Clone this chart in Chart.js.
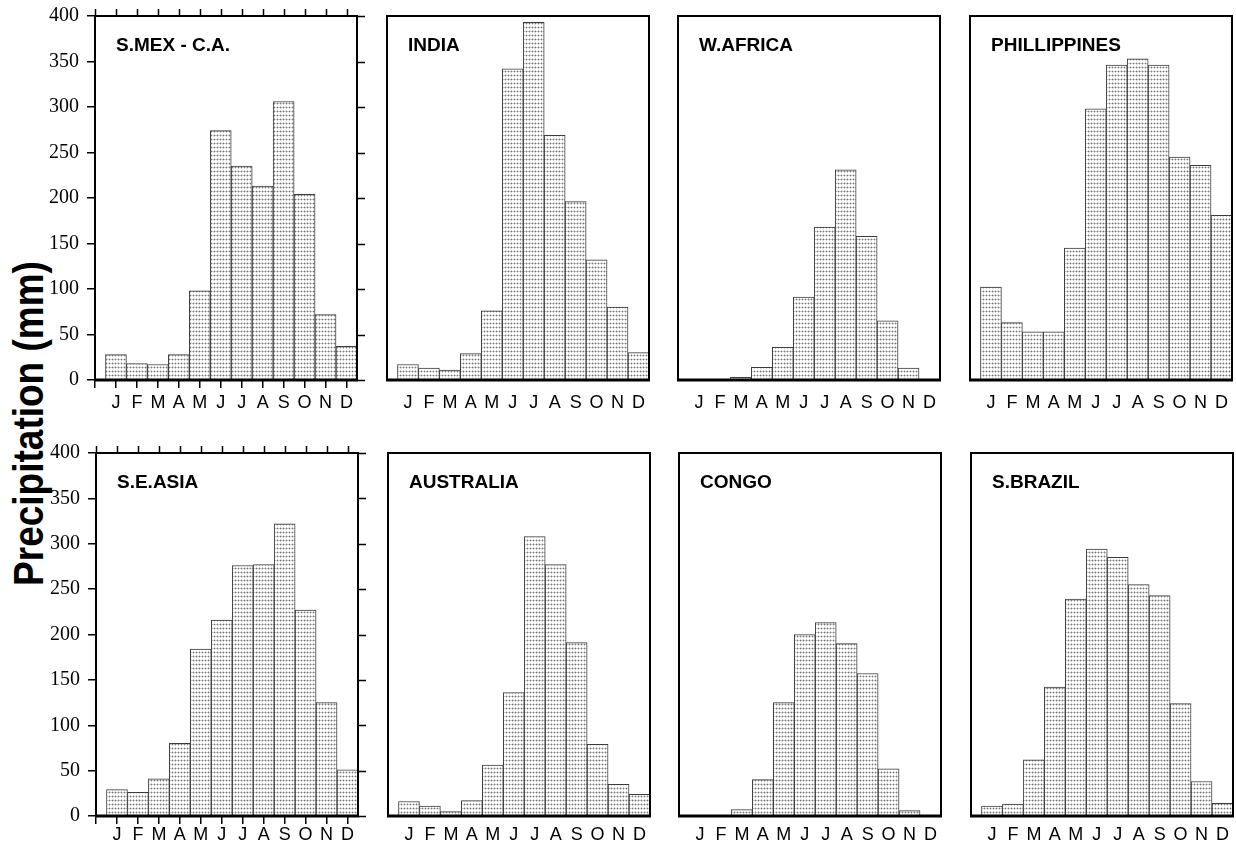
<!DOCTYPE html>
<html><head><meta charset="utf-8">
<script src="https://cdn.jsdelivr.net/npm/chart.js@4/dist/chart.umd.min.js"></script>
<style>
html,body{margin:0;padding:0;background:#fff;width:1236px;height:848px;overflow:hidden;position:relative}
canvas{position:absolute}
#ylab{position:absolute;font:bold 37px "Liberation Sans",Arial,sans-serif;line-height:1;white-space:nowrap;color:#000;transform-origin:50% 50%}
</style></head><body>
<div id="ylab">Precipitation (mm)</div>
<script>
const months = ['J','F','M','A','M','J','J','A','S','O','N','D'];
const yTicks = [0,50,100,150,200,250,300,350,400];
const regions = ['S.MEX - C.A.','INDIA','W.AFRICA','PHILLIPPINES','S.E.ASIA','AUSTRALIA','CONGO','S.BRAZIL'];
const smexCA      = [28,18,17,28,98,274,235,213,306,204,72,37];
const india       = [17,13,11,29,76,342,393,269,196,132,80,30];
const wAfrica     = [0,0,3,14,36,91,168,231,158,65,13,0];
const phillippines= [102,63,53,53,145,298,346,353,346,245,236,181];
const seAsia      = [29,26,41,80,184,216,276,277,322,227,125,51];
const australia   = [16,11,5,17,56,136,308,277,191,79,35,24];
const congo       = [0,0,7,40,125,200,213,190,157,52,6,0];
const sBrazil     = [11,13,62,142,239,294,285,255,243,124,38,14];
const series = [smexCA, india, wAfrica, phillippines, seAsia, australia, congo, sBrazil];

// layout
const colLefts = [[95,387,678,970],[96,388,679,971]];
const rowTops = [16,453];
const rowH = [364,363];
const plotW = 262;

// stipple pattern
const pc = document.createElement('canvas'); pc.width = 3; pc.height = 4;
const pctx = pc.getContext('2d');
pctx.fillStyle = '#fff'; pctx.fillRect(0,0,3,4);
pctx.fillStyle = '#cacaca';
pctx.fillRect(0,1,1,1); pctx.fillRect(2,1,1,1); pctx.fillRect(1,0,1,1); pctx.fillRect(1,2,1,1);
pctx.fillStyle = '#7a7a7a'; pctx.fillRect(1,1,1,1);
const pattern = pctx.createPattern(pc,'repeat');

const framePlugin = {
  id: 'frame',
  afterDatasetsDraw(chart, args, opts) {
    const ctx = chart.ctx, a = chart.chartArea;
    ctx.save();
    ctx.strokeStyle = '#000';
    ctx.lineWidth = 2;
    ctx.strokeRect(a.left, a.top, a.right - a.left, a.bottom - a.top);
    ctx.lineWidth = 3;
    ctx.beginPath(); ctx.moveTo(a.left - 1, a.bottom); ctx.lineTo(a.right + 1, a.bottom); ctx.stroke();
    if (opts.ticks) {
      ctx.lineWidth = 1.5;
      const xs = chart.scales.x, ys = chart.scales.y;
      xs.ticks.forEach(t => {
        const px = Math.round(xs.getPixelForValue(t.value)) + 0.5;
        ctx.beginPath(); ctx.moveTo(px, a.top); ctx.lineTo(px, a.top - 7); ctx.stroke();
      });
      ys.ticks.forEach(t => {
        const py = Math.round(ys.getPixelForValue(t.value)) + 0.5;
        ctx.beginPath(); ctx.moveTo(a.right, py); ctx.lineTo(a.right + 8, py); ctx.stroke();
      });
    }
    ctx.fillStyle = '#000';
    ctx.font = 'bold 19px "Liberation Sans", Arial, sans-serif';
    ctx.textBaseline = 'alphabetic';
    ctx.textAlign = 'left';
    ctx.fillText(opts.title, a.left + 21, a.top + 21 + 14);
    ctx.restore();
  }
};

series.forEach((vals, i) => {
  const row = Math.floor(i / 4), col = i % 4;
  const plotL = colLefts[row][col], plotT = rowTops[row], plotH = rowH[row];
  const leftExtra = col === 0 ? plotL : 6;
  const topExtra = 14, rightExtra = 12, bottomExtra = 40;
  const cv = document.createElement('canvas');
  cv.width = leftExtra + plotW + rightExtra;
  cv.height = topExtra + plotH + bottomExtra;
  cv.style.left = (plotL - leftExtra) + 'px';
  cv.style.top = (plotT - topExtra) + 'px';
  cv.style.width = cv.width + 'px';
  cv.style.height = cv.height + 'px';
  document.body.appendChild(cv);
  const yScale = {
    type: 'linear', min: 0, max: 400, display: col === 0,
    afterBuildTicks: s => { s.ticks = yTicks.map(v => ({value: v})); },
    border: {display: false},
    grid: {drawOnChartArea: false, drawTicks: true, tickLength: 8, color: '#000', lineWidth: 1.5},
    ticks: {padding: 8, color: '#000', font: {family: '"Liberation Serif", "Times New Roman", serif', size: 20}}
  };
  if (col === 0) {
    yScale.afterFit = s => { s.width = plotL; s.paddingTop = 0; s.paddingBottom = 0; };
  }
  new Chart(cv, {
    type: 'bar',
    data: {
      datasets: [{
        data: vals.map((v, k) => ({x: k + 1, y: v})),
        backgroundColor: pattern,
        borderColor: '#3c3c3c',
        borderWidth: 1,
        barPercentage: 1,
        categoryPercentage: 1
      }]
    },
    options: {
      responsive: false,
      animation: false,
      devicePixelRatio: 1,
      layout: {padding: {left: col === 0 ? 0 : leftExtra, top: topExtra, right: rightExtra, bottom: 0}},
      plugins: {
        legend: {display: false},
        tooltip: {enabled: false},
        frame: {ticks: col === 0, title: regions[i]}
      },
      scales: {
        x: {
          type: 'linear', min: 0, max: 12.5, offset: false,
          afterBuildTicks: s => { s.ticks = [0,1,2,3,4,5,6,7,8,9,10,11,12].map(v => ({value: v})); },
          afterFit: s => { s.height = bottomExtra; },
          border: {display: false},
          grid: {display: true, offset: false, drawOnChartArea: false, drawTicks: true, tickLength: 8,
                 color: col === 0 ? '#000' : 'rgba(0,0,0,0)', lineWidth: 1.5},
          ticks: {autoSkip: false, maxRotation: 0, minRotation: 0, padding: row === 0 ? 4 : 0, color: '#000',
                  font: {family: '"Liberation Sans", Arial, sans-serif', size: 18},
                  callback: v => (v >= 1 && v <= 12) ? months[v - 1] : ''}
        },
        y: yScale
      }
    },
    plugins: [framePlugin]
  });
});

// rotated y-axis label
const yl = document.getElementById('ylab');
const w = yl.offsetWidth, h = yl.offsetHeight;
const cx = 28, cy = 423;
yl.style.left = (cx - w / 2) + 'px';
yl.style.top = (cy - h / 2) + 'px';
yl.style.transform = 'scaleX(1.15) rotate(-90deg)';
</script>
</body></html>
